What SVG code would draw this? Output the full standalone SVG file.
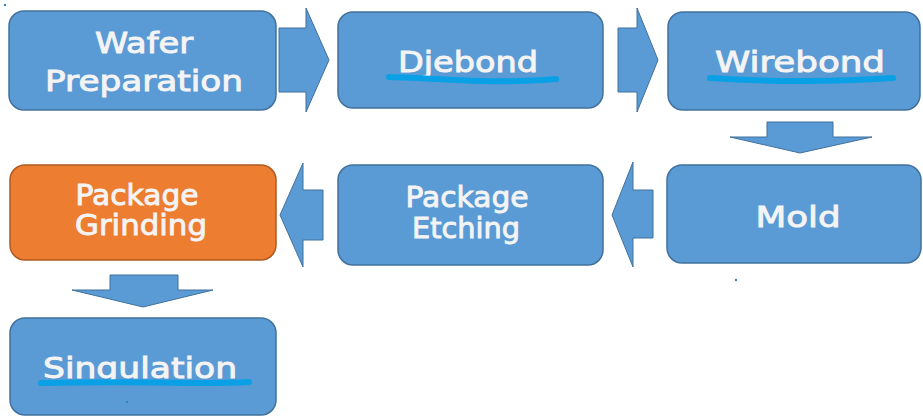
<svg xmlns="http://www.w3.org/2000/svg" width="923" height="417" viewBox="0 0 923 417">
<style>
.box{fill:#5B9BD5;stroke:#41719C;stroke-width:1.5}
.org{fill:#ED7D31;stroke:#AE5A21;stroke-width:1.5}
.arr{fill:#5B9BD5;stroke:#41719C;stroke-width:1}
.t{font-family:"DejaVu Sans",sans-serif;font-size:28px;fill:#F4F4F4;stroke:#F4F4F4;stroke-width:0.9;text-anchor:middle}
.ul{fill:none;stroke:#0AA0E6;stroke-width:6;stroke-linecap:round;stroke-linejoin:round}
.dot{fill:#2E86C1}
</style>
<rect width="923" height="417" fill="#fff"/>
<g id="connectors">
<polygon class="arr" points="279,28 306,28 306,8 329,60 306,112 306,92 279,92"/>
<polygon class="arr" points="618,28 637,28 637,8 658,60 637,112 637,92 618,92"/>
<polygon class="arr" points="767,122 833,122 833,137 872,137 800,153 730,137 767,137"/>
<polygon class="arr" points="653,190 633,190 633,162 612,215 633,267 633,238 653,238"/>
<polygon class="arr" points="323,190 303,190 303,163 280,215 303,267 303,240 323,240"/>
<polygon class="arr" points="110,275 178,275 178,290 213,290 143,307 72,290 110,290"/>
</g>
<g id="wafer-preparation">
<rect class="box" x="9" y="11" width="267" height="99" rx="15"/>
<text class="t" x="144" y="53" font-size="29" textLength="98" lengthAdjust="spacingAndGlyphs">Wafer</text>
<text class="t" x="144" y="91" font-size="29" textLength="198" lengthAdjust="spacingAndGlyphs">Preparation</text>
</g>
<g id="djebond">
<rect class="box" x="338" y="12" width="265" height="96" rx="15"/>
<text class="t" x="468" y="72" textLength="140" lengthAdjust="spacingAndGlyphs">Djebond</text>
<path class="ul" d="M389,77 C420,78 450,80 480,81 C505,82 530,81 556,79"/>
</g>
<g id="wirebond">
<rect class="box" x="668" y="12" width="252" height="98" rx="15"/>
<text class="t" x="800" y="72" textLength="170" lengthAdjust="spacingAndGlyphs">Wirebond</text>
<path class="ul" d="M710,78 C740,80 770,81 800,81 C830,81 865,80 893,78"/>
</g>
<g id="mold">
<rect class="box" x="667" y="165" width="254" height="98" rx="15"/>
<text class="t" x="798" y="227" textLength="85" lengthAdjust="spacingAndGlyphs">Mold</text>
</g>
<g id="package-etching">
<rect class="box" x="338" y="165" width="265" height="100" rx="15"/>
<text class="t" x="467" y="207" textLength="123" lengthAdjust="spacingAndGlyphs">Package</text>
<text class="t" x="466" y="238" textLength="108" lengthAdjust="spacingAndGlyphs">Etching</text>
</g>
<g id="package-grinding">
<rect class="org" x="10" y="165" width="266" height="95" rx="15"/>
<text class="t" x="137" y="205" textLength="123" lengthAdjust="spacingAndGlyphs">Package</text>
<text class="t" x="141" y="235" textLength="132" lengthAdjust="spacingAndGlyphs">Grinding</text>
</g>
<g id="singulation">
<rect class="box" x="10" y="318" width="266" height="97" rx="15"/>
<text class="t" x="140" y="378" textLength="194" lengthAdjust="spacingAndGlyphs">Singulation</text>
<path class="ul" d="M41,383 C90,382 140,382 190,383 C215,383 235,383 249,382"/>
</g>
<circle class="dot" cx="5" cy="5" r="1.2"/>
<circle class="dot" cx="736" cy="280" r="1.2"/>
<circle class="dot" cx="127" cy="402" r="1.2"/>
</svg>
